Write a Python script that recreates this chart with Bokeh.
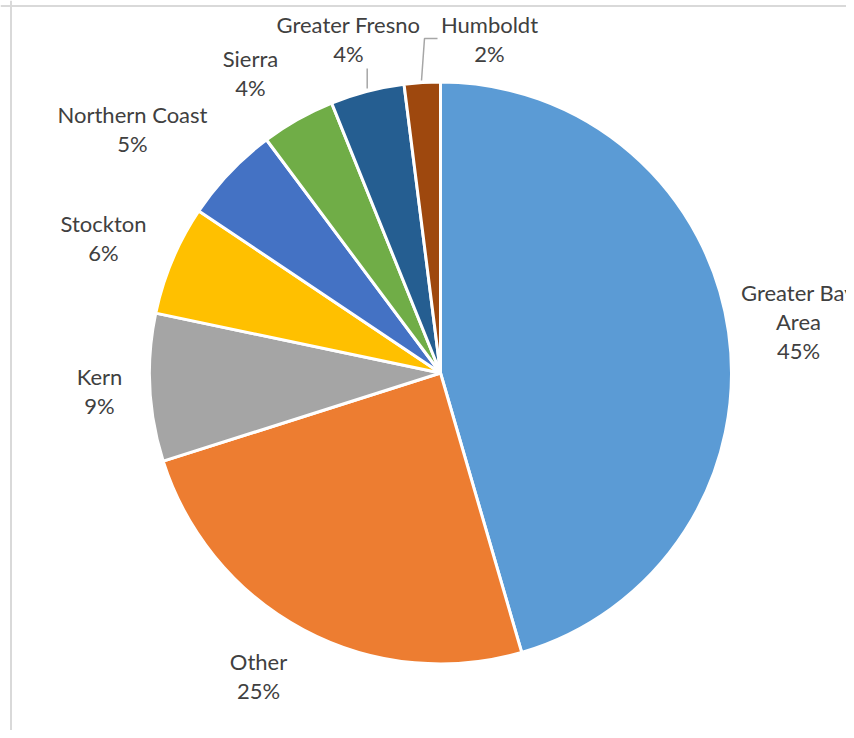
import math
from bokeh.plotting import figure
from bokeh.models import ColumnDataSource, Range1d, Span
from bokeh.core.properties import value
from bokeh.embed import file_html
from bokeh.resources import INLINE

# ---- data ----
regions = ["Greater Bay Area", "Other", "Kern", "Stockton", "Northern Coast",
           "Sierra", "Greater Fresno", "Humboldt"]
shares = [45.5, 24.6, 8.2, 6.1, 5.4, 4.1, 4.1, 2.0]
pct_labels = ["45%", "25%", "9%", "6%", "5%", "4%", "4%", "2%"]
name_lines = [["Greater Bay", "Area"], ["Other"], ["Kern"], ["Stockton"],
              ["Northern Coast"], ["Sierra"], ["Greater Fresno"], ["Humboldt"]]
colors = ["#5B9BD5", "#ED7D31", "#A5A5A5", "#FFC000", "#4472C4",
          "#70AD47", "#255E91", "#9E480E"]

# ---- layout (picture pixel coords, origin at figure top-left) ----
W, H = 846, 730
def Y(py):
    return H - py

cx, cy, R = 440, Y(372.5), 291
# label anchors: (center x, first baseline y)
label_pos = [(798, 301), (258, 670), (99, 385), (103, 232), (132, 123),
             (250, 67), (348, 33), (489, 33)]
LINE_STEP = 29
TEXT_SHIFT = -9

total = sum(shares)
starts, ends = [], []
cum = 0.0
for v in shares:
    a0 = cum / total
    cum += v
    a1 = cum / total
    starts.append(math.pi / 2 - a1 * 2 * math.pi)
    ends.append(math.pi / 2 - a0 * 2 * math.pi)

src = ColumnDataSource(dict(region=regions, share=shares, start=starts,
                            end=ends, color=colors))

p = figure(width=W, height=H, output_backend="svg", toolbar_location=None,
           x_range=Range1d(0, W), y_range=Range1d(0, H),
           min_border=0, min_border_left=0, min_border_right=0,
           min_border_top=0, min_border_bottom=0)
p.axis.visible = False
p.grid.visible = False
p.outline_line_color = None
p.background_fill_color = "white"
p.border_fill_color = "white"

p.wedge(x=cx, y=cy, radius=R, start_angle="start", end_angle="end",
        fill_color="color", line_color="white", line_width=3, source=src)

# chart frame (left and top edges)
p.add_layout(Span(location=10.5, dimension="height", line_color="#d9d9d9", line_width=2))
p.add_layout(Span(location=Y(5.5), dimension="width", line_color="#d9d9d9", line_width=2))

# leader lines
p.line(x=[366.7, 366.7], y=[Y(68), Y(88)], line_color="#a6a6a6", line_width=1.5)
p.line(x=[437, 424, 421], y=[Y(38), Y(38), Y(80)], line_color="#a6a6a6", line_width=1.5)

tx, ty, tt = [], [], []
for (lx, ly), names, pct in zip(label_pos, name_lines, pct_labels):
    lines = names + [pct]
    for i, s in enumerate(lines):
        tx.append(lx)
        ty.append(Y(ly + TEXT_SHIFT + i * LINE_STEP))
        tt.append(s)
p.text(x=tx, y=ty, text=tt, text_font=value("Lato"), text_font_size="22px",
       text_color="#404040", text_align="center", text_baseline="alphabetic")

open("out.html", "w").write(file_html(p, INLINE))
